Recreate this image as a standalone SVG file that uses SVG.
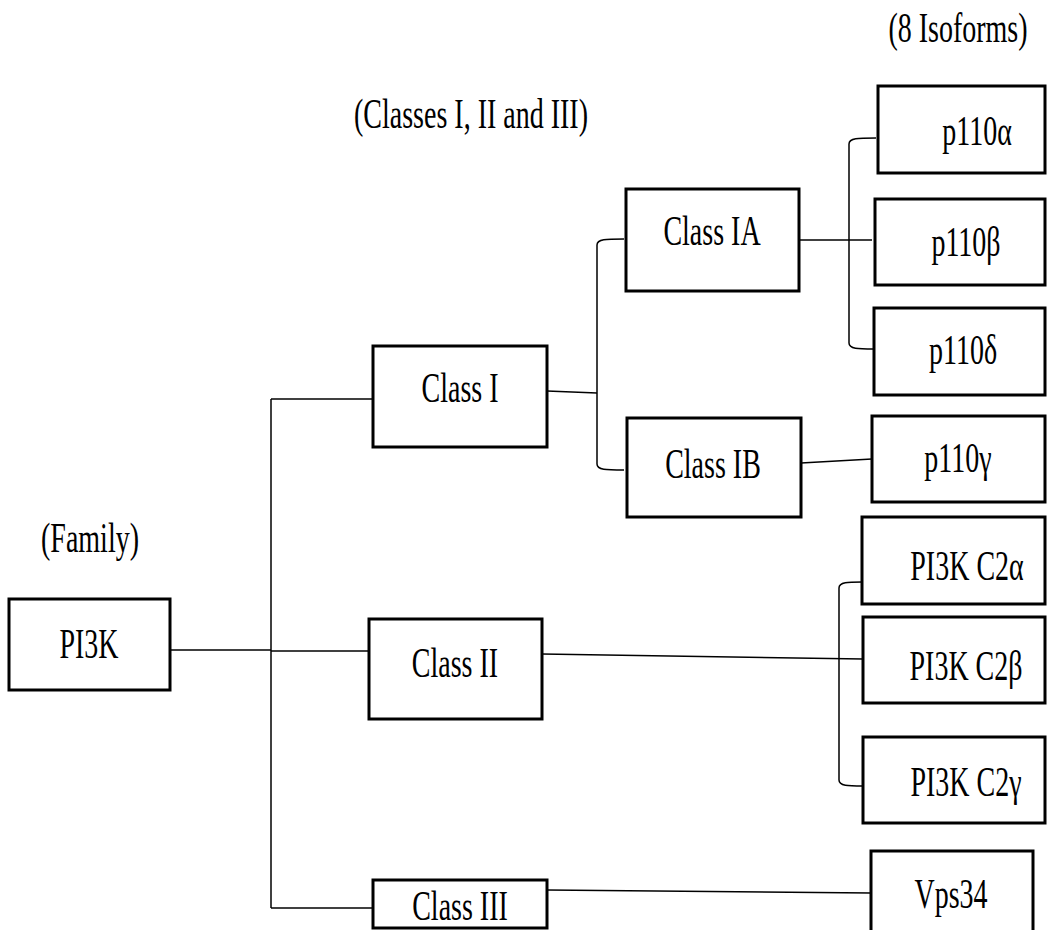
<svg xmlns="http://www.w3.org/2000/svg" width="1047" height="930" viewBox="0 0 1047 930">
<style>
.box{fill:#fff;stroke:#000;stroke-width:3}
.t{font-family:"Liberation Serif","Times New Roman",serif;font-size:28px;fill:#000;text-anchor:middle}
.ln{fill:none;stroke:#000;stroke-width:1.5}
</style>
<rect width="1047" height="930" fill="#fff"/>
<g id="captions">
<text class="t" transform="translate(958,42) scale(1,1.5)">(8 Isoforms)</text>
<text class="t" transform="translate(471,128) scale(1,1.5)">(Classes I, II and III)</text>
<text class="t" transform="translate(90,552) scale(1,1.5)">(Family)</text>
</g>
<g id="connectors">
<path class="ln" d="M170,650 H271" stroke-width="2.5"/>
<path class="ln" d="M271,399 V908"/>
<path class="ln" d="M271,399 H373"/>
<path class="ln" d="M271,651 H369"/>
<path class="ln" d="M271,908 H373"/>
<path class="ln" d="M547,391 L597,393"/>
<path class="ln" d="M624,239 C606,239 597,239 597,245 V464 C597,470 606,470 624,470"/>
<path class="ln" d="M799,240 H872"/>
<path class="ln" d="M876,138 C858,138 849,138 849,144 V343 C849,349 858,349 874,349"/>
<path class="ln" d="M801,463 L872,459"/>
<path class="ln" d="M542,654 L863,659"/>
<path class="ln" d="M862,582 C848,582 839,582 839,588 V780 C839,786 848,786 863,786"/>
<path class="ln" d="M547,890 L871,893"/>
</g>
<g id="PI3K"><rect class="box" x="9" y="599" width="161" height="91"/><text class="t" transform="translate(89,658) scale(1,1.5)">PI3K</text></g>
<g id="ClassI"><rect class="box" x="373" y="346" width="174" height="101"/><text class="t" transform="translate(460,402) scale(1,1.5)">Class I</text></g>
<g id="ClassII"><rect class="box" x="369" y="619" width="173" height="100"/><text class="t" transform="translate(455,677) scale(1,1.5)">Class II</text></g>
<g id="ClassIII"><rect class="box" x="373" y="880" width="174" height="48"/><text class="t" transform="translate(460,920) scale(1,1.5)">Class III</text></g>
<g id="ClassIA"><rect class="box" x="626" y="189" width="173" height="102"/><text class="t" transform="translate(712,245) scale(1,1.5)">Class IA</text></g>
<g id="ClassIB"><rect class="box" x="627" y="418" width="174" height="99"/><text class="t" transform="translate(713,478) scale(1,1.5)">Class IB</text></g>
<g id="p110a"><rect class="box" x="878" y="86" width="167" height="87"/><text class="t" transform="translate(977,145) scale(1,1.5)">p110α</text></g>
<g id="p110b"><rect class="box" x="875" y="199" width="170" height="86"/><text class="t" transform="translate(966,256) scale(1,1.5)">p110β</text></g>
<g id="p110d"><rect class="box" x="874" y="308" width="171" height="87"/><text class="t" transform="translate(963,364) scale(1,1.5)">p110δ</text></g>
<g id="p110g"><rect class="box" x="872" y="416" width="173" height="86"/><text class="t" transform="translate(958,472) scale(1,1.5)">p110γ</text></g>
<g id="C2a"><rect class="box" x="862" y="517" width="183" height="87"/><text class="t" transform="translate(967,580) scale(1,1.5)">PI3K C2α</text></g>
<g id="C2b"><rect class="box" x="863" y="617" width="182" height="86"/><text class="t" transform="translate(966,680) scale(1,1.5)">PI3K C2β</text></g>
<g id="C2g"><rect class="box" x="863" y="737" width="182" height="86"/><text class="t" transform="translate(966,796) scale(1,1.5)">PI3K C2γ</text></g>
<g id="Vps34"><rect class="box" x="871" y="851" width="162" height="90"/><text class="t" transform="translate(951,908) scale(1,1.5)">Vps34</text></g>
</svg>
